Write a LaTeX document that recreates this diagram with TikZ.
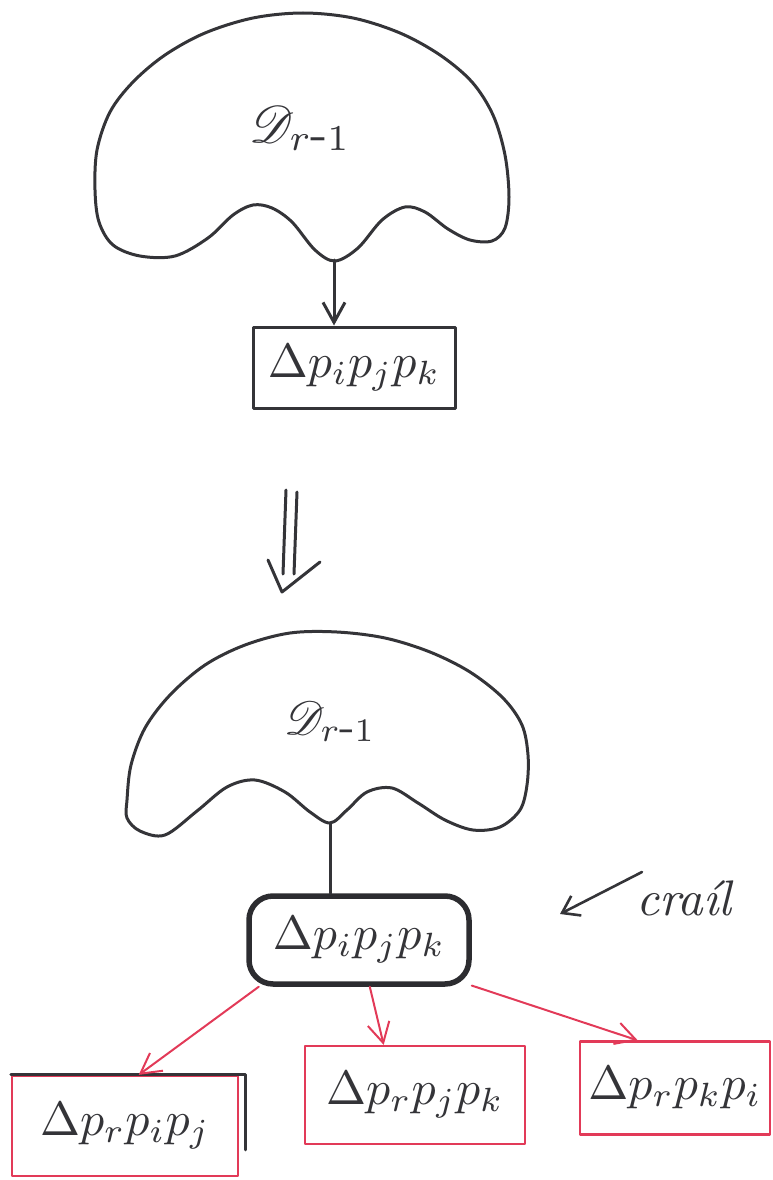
\documentclass[tikz,border=0pt]{standalone}
\usepackage{graphicx}
\usepackage{mathrsfs}
\usetikzlibrary{arrows.meta}
\definecolor{ink}{RGB}{52,52,56}
\definecolor{redink}{RGB}{226,58,88}
\newcommand{\bigtri}[1]{\scalebox{4.8}{$#1$}}
\begin{document}
\begin{tikzpicture}[x=1pt,y=-1pt, line join=round, line cap=round,
  inkline/.style={draw=ink, line width=3pt},
  redline/.style={draw=redink, line width=2pt},
  boxnode/.style={draw=ink, line width=3pt, minimum width=202pt, minimum height=81pt, inner sep=0pt, text=ink},
  redbox/.style={draw=redink, line width=2.2pt, inner sep=0pt, text=ink},
  tip/.style={-{Straight Barb[length=20pt,width=22pt]}}]
\useasboundingbox (0,0) rectangle (773,1180);

% top cloud
\draw[inkline] plot[smooth cycle, tension=0.55] coordinates {(95,190) (97,150) (110,112) (133,82) (165,55) (205,33) (253,18) (303,13) (353,18) (400,33) (440,55) (472,82) (493,115) (505,155) (509,197) (505,228) (492,241) (470,240) (448,229) (425,212) (405,207) (382,220) (358,248) (335,261) (315,250) (292,222) (272,208) (253,205) (233,215) (208,238) (175,256) (140,256) (113,245) (99,222)};
\coordinate (c1b) at (334,260);
\node[text=ink] (d1) at (300,128) {\scalebox{5.2}{$\mathscr{D}_{r\mbox{-}1}$}};

% top box
\node[boxnode] (b1) at (354,367.5) {\bigtri{\Delta p_i p_j p_k}};
\draw[inkline, tip] (c1b) -- (c1b |- b1.north);

% implies arrow
\draw[inkline] (286,490) -- (283,574);
\draw[inkline] (297,492) -- (294,574);
\draw[inkline] (268,560) -- (282,592) -- (320,562);

% lower cloud
\draw[inkline] plot[smooth cycle, tension=0.55] coordinates {(127,800) (131,765) (145,728) (170,695) (205,665) (245,645) (290,633) (337,632) (385,638) (430,652) (470,672) (503,698) (522,725) (528,755) (527,785) (520,810) (500,827) (473,830) (445,820) (418,803) (392,788) (367,792) (347,810) (330,823) (310,812) (285,792) (255,780) (227,787) (197,811) (165,835) (140,831) (127,818)};
\coordinate (c2b) at (330,823);
\node[text=ink] (d2) at (330,722) {\scalebox{4.7}{$\mathscr{D}_{r\mbox{-}1}$}};

% lower rounded box
\node[draw=ink!85!black, line width=5.5pt, rounded corners=24pt, minimum width=220pt, minimum height=88pt, inner sep=0pt, text=ink] (lo) at (359,940) {\bigtri{\Delta p_i p_j p_k}};
\draw[inkline] (c2b) -- (c2b |- lo.north);

% annotation
\coordinate (a1) at (642,872);
\coordinate (a2) at (560,914);
\draw[inkline, line width=2.6pt, -{Straight Barb[length=16pt,width=22pt]}] (a1) -- (a2);
\node[text=ink] (cr) at (684,898) {\scalebox{5}{\itshape craíl}};

% red boxes
\node[redbox, minimum width=226pt, minimum height=100pt] (rb1) at (125,1126) {\bigtri{\Delta p_r p_i p_j}};
\draw[inkline, line width=3pt] (rb1.north west) -- ([xshift=6pt]rb1.north east) -- ([xshift=6pt,yshift=-75pt]rb1.north east);
\node[redbox, minimum width=220pt, minimum height=98pt] (rb2) at (415,1095) {\bigtri{\Delta p_r p_j p_k}};
\node[redbox, minimum width=190pt, minimum height=93pt] (rb3) at (675,1088) {\bigtri{\Delta p_r p_k p_i}};

\draw[redline, tip] (lo.205) -- (rb1.75);
\draw[redline, tip] (lo.283) -- (rb2.122);
\draw[redline, tip] (lo.338) -- (rb3.128);
\end{tikzpicture}
\end{document}
